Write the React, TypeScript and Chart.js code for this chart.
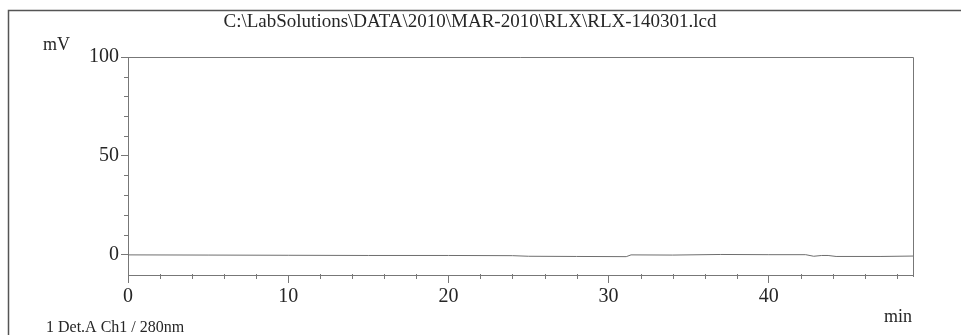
import React, { useEffect, useRef } from "react";
import { Chart, registerables } from "chart.js";

Chart.register(...registerables);

const TITLE = "C:\\LabSolutions\\DATA\\2010\\MAR-2010\\RLX\\RLX-140301.lcd";
const Y_UNIT = "mV";
const X_UNIT = "min";
const FOOTER = "1 Det.A Ch1 / 280nm";

const X_MAJOR_TICKS = [0, 10, 20, 30, 40];
const X_MINOR_TICKS = [2, 4, 6, 8, 12, 14, 16, 18, 22, 24, 26, 28, 32, 34, 36, 38, 42, 44, 46, 48];
const Y_MAJOR_TICKS = [0, 50, 100];
const Y_MINOR_TICKS = [10, 20, 30, 40, 60, 70, 80, 90];

const TIME_MIN = [0, 5, 10, 15, 20, 24, 25, 28, 31.1, 31.4, 34, 37, 40, 42.3, 42.8, 43.3, 43.7, 44.2, 47, 49];
const SIGNAL_MV = [-0.3, -0.4, -0.5, -0.6, -0.6, -0.7, -1.0, -1.1, -1.2, -0.3, -0.4, -0.1, -0.2, -0.2, -1.0, -0.6, -0.6, -1.1, -1.1, -0.9];

const SERIF = "'Liberation Serif', 'Times New Roman', serif";
const INK = "#262626";
const AXIS = "#777777";

const decorPlugin = {
  id: "decor",
  afterDraw(chart: any) {
    const ctx = chart.ctx;
    const xs = chart.scales.x;
    const ys = chart.scales.y;
    const a = chart.chartArea;
    ctx.save();
    // outer frame (top & left)
    ctx.strokeStyle = "#555555";
    ctx.lineWidth = 1.5;
    ctx.beginPath();
    ctx.moveTo(961, 10.5);
    ctx.lineTo(8.5, 10.5);
    ctx.lineTo(8.5, 335);
    ctx.stroke();
    // plot top & right border
    ctx.strokeStyle = AXIS;
    ctx.lineWidth = 1;
    ctx.beginPath();
    ctx.moveTo(a.left, a.top + 0.5);
    ctx.lineTo(a.right + 0.5, a.top + 0.5);
    ctx.lineTo(a.right + 0.5, a.bottom + 2);
    ctx.stroke();
    // minor ticks
    ctx.beginPath();
    X_MINOR_TICKS.forEach((v) => {
      const px = Math.round(xs.getPixelForValue(v)) + 0.5;
      ctx.moveTo(px, a.bottom - 1);
      ctx.lineTo(px, a.bottom + 4);
    });
    Y_MINOR_TICKS.forEach((v) => {
      const py = Math.round(ys.getPixelForValue(v)) + 0.5;
      ctx.moveTo(a.left - 4, py);
      ctx.lineTo(a.left + 1, py);
    });
    ctx.stroke();
    // texts
    ctx.fillStyle = INK;
    ctx.textBaseline = "middle";
    ctx.font = `19px ${SERIF}`;
    ctx.textAlign = "center";
    ctx.fillText(TITLE, 470, 22);
    ctx.font = `18px ${SERIF}`;
    ctx.textAlign = "left";
    ctx.fillText(Y_UNIT, 43, 45);
    ctx.textAlign = "right";
    ctx.fillText(X_UNIT, 912, 317);
    ctx.font = `16px ${SERIF}`;
    ctx.textAlign = "left";
    ctx.fillText(FOOTER, 46, 328);
    ctx.restore();
  },
};

export default function App() {
  const ref = useRef<HTMLCanvasElement>(null);
  useEffect(() => {
    const canvas = ref.current;
    if (!canvas) return;
    const chart = new Chart(canvas, {
      type: "line",
      data: {
        datasets: [
          {
            data: TIME_MIN.map((t, i) => ({ x: t, y: SIGNAL_MV[i] })),
            borderColor: "#6e6e6e",
            borderWidth: 1,
            pointRadius: 0,
            tension: 0,
          },
        ],
      },
      options: {
        animation: false,
        responsive: false,
        layout: { padding: { top: 57, right: 48, left: 0, bottom: 0 } },
        plugins: { legend: { display: false }, tooltip: { enabled: false } },
        scales: {
          x: {
            type: "linear",
            min: 0,
            max: 49,
            afterBuildTicks: (s: any) => {
              s.ticks = X_MAJOR_TICKS.map((v) => ({ value: v }));
            },
            afterFit: (s: any) => {
              s.height = 60;
            },
            grid: { drawOnChartArea: false, drawTicks: true, tickLength: 8, color: AXIS },
            border: { display: true, color: AXIS, width: 1 },
            ticks: {
              autoSkip: false,
              maxRotation: 0,
              padding: 2,
              color: INK,
              font: { family: SERIF, size: 20 },
              callback: (v: any) => String(v),
            },
          },
          y: {
            type: "linear",
            min: -10.5,
            max: 100,
            afterBuildTicks: (s: any) => {
              s.ticks = Y_MAJOR_TICKS.map((v) => ({ value: v }));
            },
            afterFit: (s: any) => {
              s.width = 128;
            },
            grid: { drawOnChartArea: false, drawTicks: true, tickLength: 7, color: AXIS },
            border: { display: true, color: AXIS, width: 1 },
            ticks: {
              autoSkip: false,
              padding: 2,
              color: INK,
              font: { family: SERIF, size: 20 },
              callback: (v: any) => String(v),
            },
          },
        },
      },
      plugins: [decorPlugin],
    } as any);
    return () => chart.destroy();
  }, []);
  return (
    <div style={{ position: "fixed", left: 0, top: 0, width: 961, height: 335, background: "#fff" }}>
      <canvas ref={ref} width={961} height={335} style={{ display: "block" }} />
    </div>
  );
}
